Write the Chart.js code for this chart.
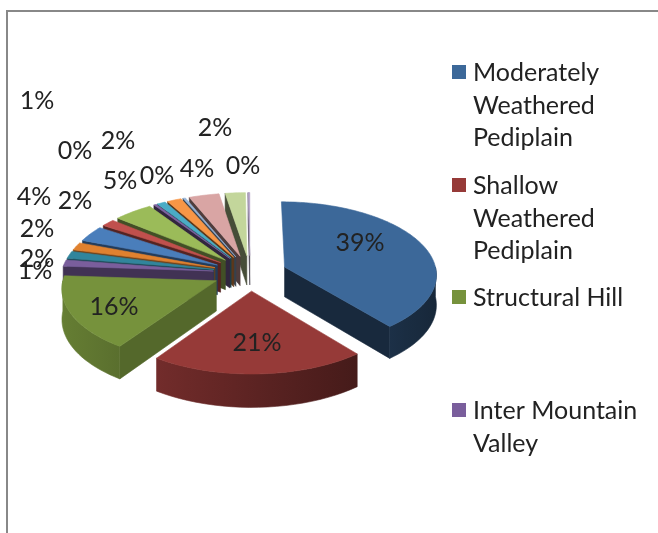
<!DOCTYPE html>
<html>
<head>
<meta charset="utf-8">
<title>Landform share</title>
<script src="https://cdn.jsdelivr.net/npm/chart.js@4"></script>
<style>
    html, body { margin: 0; padding: 0; background: #fff; overflow: hidden; }
    #wrap { position: relative; width: 658px; height: 533px; overflow: hidden; }
    #frame { position: absolute; left: 6px; top: 10px; width: 700px; height: 600px; border: 2px solid #888; }
    canvas { position: absolute; left: 0; top: 0; filter: blur(0.4px); }
</style>
</head>
<body>
<div id="wrap">
    <div id="frame"></div>
    <canvas id="landformChart" width="658" height="533"></canvas>
</div>
<script>
// values, the labels are these rounded
const categories = ['Moderately Weathered Pediplain', 'Shallow Weathered Pediplain', 'Structural Hill', 'Inter Mountain Valley',
    '', '', '', '', '', '', '', '', '', '', '', ''];
const shares = [39, 20.6, 16.4, 1.4, 1.6, 1.7, 3.5, 1.6, 4.6, 0.3, 1.0, 1.7, 0.3, 3.6, 2.4, 0.2];
const sliceColors = ['#3C6899', '#963A38', '#76923C', '#7A5E9C', '#31859C', '#E0812F', '#4A7EBB', '#C0504D',
    '#9BBB59', '#8064A2', '#4BACC6', '#F79646', '#95B3D7', '#D9A5A4', '#C3D69B', '#B3A2C7'];

// hand placed in the original, so they are kept by hand here too
const labelSpots = [[360, 243], [257, 343], [114, 307], [35, 271], [37, 259], [37, 229], [34, 197], [75, 201],
    [120, 181], [75, 151], [37, 101], [118, 141], [157, 176], [197, 169], [215, 128], [243, 166]];
const legendRows = [
    { slice: 0, y: 72, lines: ['Moderately', 'Weathered', 'Pediplain'] },
    { slice: 1, y: 185, lines: ['Shallow', 'Weathered', 'Pediplain'] },
    { slice: 2, y: 297, lines: ['Structural Hill'] },
    { slice: 3, y: 410, lines: ['Inter Mountain', 'Valley'] }
];

const tilt = 0.48;
const perspective = 0.0006;
const depth = 30;
const textFont = '25px Lato';

function project(el, X, Y, z) {
    const f = 1 + Y * perspective;
    return [el.x + X * f, el.y + (tilt * Y + z) * f];
}

function shadeColor(hex, s) {
    const n = parseInt(hex.slice(1), 16);
    return 'rgb(' + Math.round((n >> 16) * s) + ',' + Math.round(((n >> 8) & 255) * s) + ',' + Math.round((n & 255) * s) + ')';
}

function fillPoly(ctx, pts, color) {
    ctx.beginPath();
    pts.forEach(function(p, i) { i ? ctx.lineTo(p[0], p[1]) : ctx.moveTo(p[0], p[1]); });
    ctx.closePath();
    ctx.fillStyle = color;
    ctx.strokeStyle = color;
    ctx.lineWidth = 0.6;
    ctx.fill();
    ctx.stroke();
}

function drawSlice(ctx, el) {
    const color = el.options.backgroundColor;
    const mid = (el.startAngle + el.endAngle) / 2;
    const ox = Math.cos(mid) * el.options.offset;
    const oy = Math.sin(mid) * el.options.offset;
    const R = el.outerRadius;
    const rim = function(a, z) { return project(el, ox + Math.cos(a) * R, oy + Math.sin(a) * R, z); };
    const apex = function(z) { return project(el, ox, oy, z); };

    // radial walls, only the ones facing the viewer
    [[el.startAngle, el.startAngle - Math.PI / 2], [el.endAngle, el.endAngle + Math.PI / 2]].forEach(function(w) {
        if (Math.sin(w[1]) <= 0) return;
        const s = Math.max(0.36, 0.55 + 0.2 * Math.cos(w[1]));
        fillPoly(ctx, [apex(0), rim(w[0], 0), rim(w[0], depth), apex(depth)], shadeColor(color, s));
    });

    // outer wall, only the front half of the circle shows
    const lo = Math.max(el.startAngle, 0);
    const hi = Math.min(el.endAngle, Math.PI);
    if (hi > lo) {
        const n = 24;
        const upper = [];
        const lower = [];
        for (let i = 0; i <= n; i++) {
            const a = lo + (hi - lo) * i / n;
            upper.push(rim(a, 0));
            lower.unshift(rim(a, depth));
        }
        const x0 = upper[0][0];
        const x1 = upper[n][0];
        const grad = ctx.createLinearGradient(x0, 0, x1, 0);
        for (let i = 0; i <= n; i += 4) {
            const a = lo + (hi - lo) * i / n;
            grad.addColorStop(Math.min(1, Math.max(0, (upper[i][0] - x0) / (x1 - x0))), shadeColor(color, 0.62 - 0.25 * Math.cos(a)));
        }
        fillPoly(ctx, upper.concat(lower), grad);
    }

    // top face
    const steps = Math.max(2, Math.ceil((el.endAngle - el.startAngle) * R / 3));
    const top = [apex(0)];
    for (let i = 0; i <= steps; i++) top.push(rim(el.startAngle + (el.endAngle - el.startAngle) * i / steps, 0));
    fillPoly(ctx, top, color);
}

const tiltedPie = {
    id: 'tiltedPie',
    beforeDatasetDraw: function(chart) {
        const ctx = chart.ctx;
        const arcs = chart.getDatasetMeta(0).data.slice();
        const midY = function(el) {
            const mid = (el.startAngle + el.endAngle) / 2;
            return Math.sin(mid) * (el.options.offset + el.outerRadius / 2);
        };
        arcs.sort(function(a, b) { return midY(a) - midY(b); });
        ctx.save();
        arcs.forEach(function(el) { drawSlice(ctx, el); });
        ctx.restore();
        return false;
    },
    afterDraw: function(chart) {
        const ctx = chart.ctx;
        ctx.save();
        ctx.font = textFont;
        ctx.fillStyle = '#222';
        ctx.textBaseline = 'middle';

        // data labels
        ctx.textAlign = 'center';
        shares.forEach(function(v, i) {
            ctx.fillText(Math.round(v) + '%', labelSpots[i][0], labelSpots[i][1]);
        });

        // legend, wrapped by hand like the original
        ctx.textAlign = 'left';
        legendRows.forEach(function(row) {
            ctx.fillStyle = sliceColors[row.slice];
            ctx.fillRect(452, row.y - 7, 14, 14);
            ctx.fillStyle = '#222';
            row.lines.forEach(function(line, i) {
                ctx.fillText(line, 473, row.y + 1 + i * 32.5);
            });
        });
        ctx.restore();
    }
};

new Chart(document.getElementById('landformChart').getContext('2d'), {
    type: 'pie',
    data: {
        labels: categories,
        datasets: [{
            data: shares,
            backgroundColor: sliceColors,
            offset: 37,
            borderWidth: 0
        }]
    },
    options: {
        responsive: false,
        animation: false,
        radius: 152,
        layout: { padding: { left: 2, right: 160, top: 13, bottom: 0 } },
        plugins: {
            legend: { display: false },
            title: { display: false },
            tooltip: { enabled: false }
        }
    },
    plugins: [tiltedPie]
});
</script>
</body>
</html>
